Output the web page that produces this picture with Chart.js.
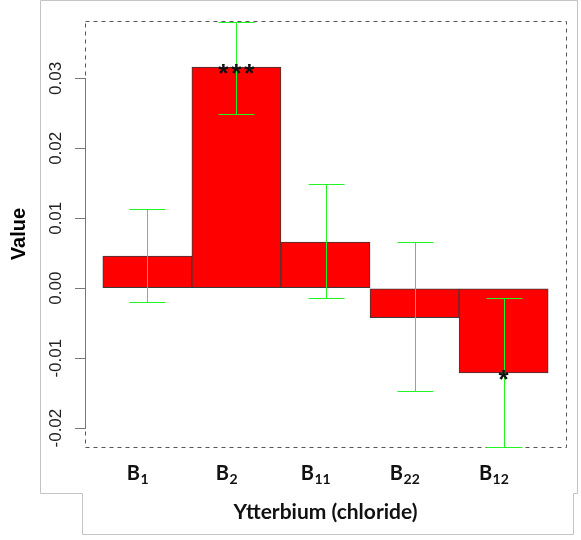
<!DOCTYPE html>
<html>
<head>
<meta charset="utf-8">
<script src="https://cdn.jsdelivr.net/npm/chart.js@4"></script>
<style>
  html, body { margin: 0; padding: 0; background: #fff; }
  #wrap { width: 581px; height: 540px; }
</style>
</head>
<body>
<div id="wrap"><canvas id="chart" width="581" height="540"></canvas></div>
<script>
    // Chart data
    const groups = ['1', '2', '11', '22', '12'];           // subscripts of B
    const values = [0.0046, 0.0316, 0.0066, -0.0042, -0.0121];
    const errLow = [-0.0020, 0.0249, -0.0014, -0.0147, -0.0227];
    const errHigh = [0.0113, 0.0381, 0.0149, 0.0066, -0.0014];
    const stars = ['', '***', '', '', '*'];
    const yTicks = [-0.02, -0.01, 0, 0.01, 0.02, 0.03];
    const yTickLabels = ['-0.02', '-0.01', '0.00', '0.01', '0.02', '0.03'];

    // Frames, axis line, tick labels, error bars and group labels
    const decorPlugin = {
        id: 'decor',
        beforeDraw(chart) {
            const ctx = chart.ctx;
            ctx.save();
            ctx.strokeStyle = '#c4c4c4';
            ctx.lineWidth = 1;
            ctx.beginPath();
            ctx.moveTo(40.5, 0.5);
            ctx.lineTo(577.5, 0.5);
            ctx.lineTo(577.5, 493.5);
            ctx.lineTo(573.5, 493.5);
            ctx.lineTo(573.5, 534.5);
            ctx.lineTo(82.5, 534.5);
            ctx.lineTo(82.5, 493.5);
            ctx.lineTo(40.5, 493.5);
            ctx.closePath();
            ctx.stroke();
            ctx.restore();
        },
        afterDatasetsDraw(chart) {
            const ctx = chart.ctx;
            const area = chart.chartArea;
            const x = chart.scales.x;
            const y = chart.scales.y;
            ctx.save();

            // dashed plot frame
            ctx.strokeStyle = '#555';
            ctx.lineWidth = 1;
            ctx.setLineDash([4, 4]);
            ctx.strokeRect(Math.round(area.left) + 0.5, Math.round(area.top) + 0.5,
                Math.round(area.right - area.left), Math.round(area.bottom - area.top));
            ctx.setLineDash([]);

            // y axis line (only across the ticks)
            const ax = Math.round(area.left) + 0.5;
            ctx.strokeStyle = '#777';
            ctx.beginPath();
            ctx.moveTo(ax, Math.round(y.getPixelForValue(yTicks[yTicks.length - 1])));
            ctx.lineTo(ax, Math.round(y.getPixelForValue(yTicks[0])) + 1);
            ctx.stroke();

            // y tick labels, rotated
            ctx.fillStyle = '#222';
            ctx.font = '17px "Liberation Sans", Arial, sans-serif';
            ctx.textAlign = 'center';
            ctx.textBaseline = 'alphabetic';
            yTicks.forEach(function(v, i) {
                ctx.save();
                ctx.translate(61, y.getPixelForValue(v));
                ctx.rotate(-Math.PI / 2);
                ctx.fillText(yTickLabels[i], 0, 0);
                ctx.restore();
            });

            // error bars
            ctx.strokeStyle = '#22f522';
            ctx.lineWidth = 1;
            values.forEach(function(v, i) {
                const cx = Math.round(x.getPixelForValue(i + 0.5)) + 0.5;
                const yt = Math.round(y.getPixelForValue(errHigh[i])) + 0.5;
                const yb = Math.round(y.getPixelForValue(errLow[i])) + 0.5;
                ctx.beginPath();
                ctx.moveTo(cx, yt);
                ctx.lineTo(cx, yb);
                ctx.moveTo(cx - 18, yt);
                ctx.lineTo(cx + 18, yt);
                ctx.moveTo(cx - 18, yb);
                ctx.lineTo(cx + 18, yb);
                ctx.stroke();
            });

            // significance stars
            ctx.fillStyle = '#111';
            ctx.font = 'bold 26px "Liberation Sans", Arial, sans-serif';
            ctx.textAlign = 'center';
            ctx.textBaseline = 'alphabetic';
            const m = ctx.measureText('*');
            const shift = (m.actualBoundingBoxAscent - m.actualBoundingBoxDescent) / 2;
            stars.forEach(function(s, i) {
                if (!s) return;
                const cx = x.getPixelForValue(i + 0.5);
                const cy = y.getPixelForValue(values[i]) + 2;
                for (let k = 0; k < s.length; k++) {
                    ctx.fillText('*', cx + (k - (s.length - 1) / 2) * 13, cy + shift);
                }
            });

            // group labels B with subscripts
            ctx.fillStyle = '#111';
            ctx.textAlign = 'left';
            groups.forEach(function(g, i) {
                const cx = x.getPixelForValue(i + 0.5) - 10;
                ctx.font = 'bold 20px Lato, "Liberation Sans", sans-serif';
                const wB = ctx.measureText('B').width;
                ctx.font = 'bold 14px Lato, "Liberation Sans", sans-serif';
                const wS = ctx.measureText(g).width;
                const left = cx - (wB + wS) / 2;
                ctx.font = 'bold 20px Lato, "Liberation Sans", sans-serif';
                ctx.fillText('B', left, 480);
                ctx.font = 'bold 14px Lato, "Liberation Sans", sans-serif';
                ctx.fillText(g, left + wB + 0.5, 484);
            });

            ctx.restore();
        }
    };

    function createChart() {
        const ctx = document.getElementById('chart');
        new Chart(ctx, {
            type: 'bar',
            data: {
                datasets: [{
                    label: 'Value',
                    data: values.map((v, i) => ({ x: i + 0.5, y: v })),
                    backgroundColor: '#ff0000',
                    borderColor: '#3a3a3a',
                    borderWidth: 1,
                    borderSkipped: false,
                    barPercentage: 1,
                    categoryPercentage: 1
                }]
            },
            options: {
                responsive: false,
                animation: false,
                devicePixelRatio: 1,
                layout: {
                    padding: { top: 21, right: 15, left: 0, bottom: 0 }
                },
                plugins: {
                    legend: { display: false },
                    tooltip: { enabled: false }
                },
                scales: {
                    x: {
                        type: 'linear',
                        min: -0.2,
                        max: 5.2,
                        offset: false,
                        grid: { display: false },
                        border: { display: false },
                        ticks: { display: false },
                        title: {
                            display: true,
                            text: 'Ytterbium (chloride)',
                            color: '#111',
                            font: { family: 'Lato', size: 21, weight: 'bold' },
                            padding: { top: 0, bottom: 15 }
                        },
                        afterFit: function(scale) {
                            scale.height = 93;
                        }
                    },
                    y: {
                        min: -0.0227,
                        max: 0.0382,
                        border: { display: false },
                        grid: {
                            drawOnChartArea: false,
                            drawTicks: true,
                            tickLength: 10,
                            color: '#777'
                        },
                        ticks: { display: false },
                        afterBuildTicks: function(scale) {
                            scale.ticks = yTicks.map(v => ({ value: v }));
                        },
                        title: {
                            display: true,
                            text: 'Value',
                            color: '#000',
                            font: { family: '"Liberation Sans"', size: 20, weight: 'bold' },
                            padding: { top: 7, bottom: 0 }
                        },
                        afterFit: function(scale) {
                            scale.width = 85;
                        }
                    }
                }
            },
            plugins: [decorPlugin]
        });
    }

    createChart();
</script>
</body>
</html>
